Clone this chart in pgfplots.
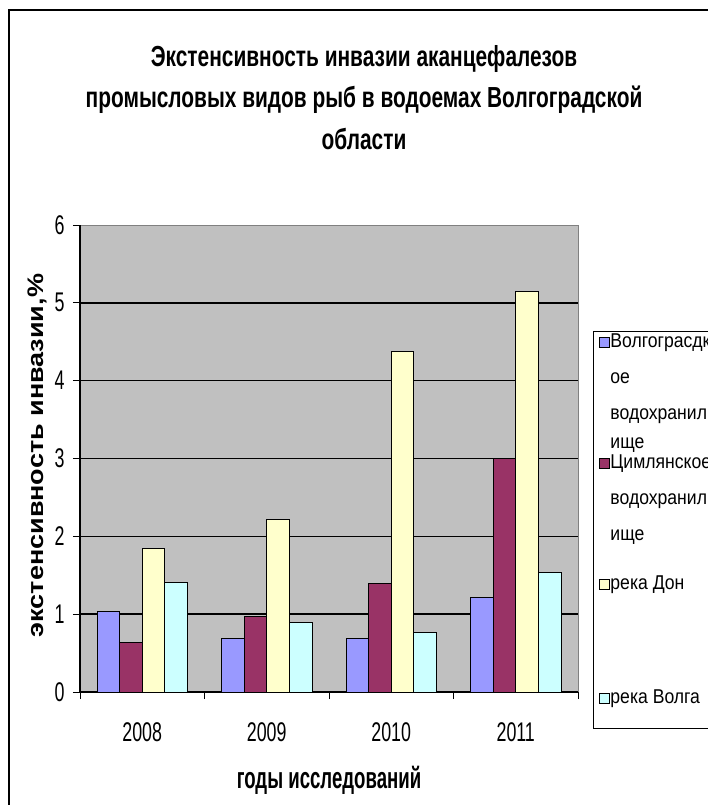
\documentclass[border=0pt]{standalone}
\usepackage{pgfplots}
\pgfplotsset{compat=1.18}
\usepackage{fontspec}
\setmainfont{Liberation Sans}
\newfontfamily\titlefont[FakeStretch=0.72]{Liberation Sans}
\newfontfamily\tickfont[FakeStretch=0.66]{Liberation Sans}
\newfontfamily\xlabfont[FakeStretch=0.62]{Liberation Sans}
\newfontfamily\ylabfont[FakeStretch=1.2]{Liberation Sans}
\newfontfamily\legfont[FakeStretch=0.88]{Liberation Sans}
\definecolor{bgray}{RGB}{192,192,192}
\definecolor{edgegray}{RGB}{128,128,128}
\definecolor{sA}{RGB}{153,153,255}
\definecolor{sB}{RGB}{153,51,102}
\definecolor{sC}{RGB}{255,255,204}
\definecolor{sD}{RGB}{204,255,255}
\protected\def\LegEntry#1#2{\parbox[t][#1][t]{200pt}{\legfont\fontsize{20pt}{36pt}\selectfont\rule[-5pt]{0pt}{21pt}#2}}
\pgfplotstableread{
x  A    B    C    D
0  1.04 0.64 1.84 1.41
1  0.69 0.97 2.22 0.89
2  0.69 1.39 4.37 0.76
3  1.21 3.00 5.14 1.54
}\datatable
\begin{document}
\begin{tikzpicture}
\useasboundingbox (0pt,0pt) rectangle (708pt,-805pt);
\clip (0pt,0pt) rectangle (708pt,-805pt);
\draw[line width=2pt] (9pt,-10pt) rectangle (760pt,-860pt);
\begin{axis}[
  at={(80pt,-692pt)}, anchor=south west,
  scale only axis, width=498pt, height=467pt,
  ybar=0pt, bar width=22.6pt,
  xmin=-0.5, xmax=3.5, ymin=0, ymax=6,
  axis x line*=bottom, axis y line*=left,
  axis line style={black, line width=1.2pt},
  axis background/.style={fill=bgray, draw=edgegray, line width=1pt},
  xtick={0,1,2,3}, xticklabels={2008,2009,2010,2011},
  major x tick style={draw=none},
  minor xtick={-0.5,0.5,1.5,2.5,3.5},
  ytick={0,1,2,3,4,5,6},
  tick align=outside, major tick length=7pt, minor tick length=7pt,
  tick style={black, line width=1pt},
  extra y ticks={1,2,3,4,5}, extra y tick labels={},
  extra y tick style={ymajorgrids=true, major tick length=0pt},
  grid style={black, line width=1.4pt},
  /pgf/number format/assume math mode=true,
  tick label style={font=\tickfont\fontsize{27pt}{30pt}\selectfont},
  yticklabel style={xshift=-5pt},
  xticklabel style={anchor=base, yshift=-42pt},
  title={Экстенсивность инвазии аканцефалезов\\промысловых видов рыб в водоемах Волгоградской\\области},
  title style={at={(axis description cs:0.5703,1.3726)}, anchor=north, align=center, inner sep=0pt,
    font=\titlefont\bfseries\fontsize{29pt}{41.5pt}\selectfont},
  xlabel={годы исследований},
  xlabel style={at={(axis description cs:0.5,-0.2056)}, anchor=base, inner sep=0pt,
    font=\xlabfont\bfseries\fontsize{30pt}{34pt}\selectfont},
  ylabel={экстенсивность инвазии,\%},
  ylabel style={at={(axis description cs:-0.0737,0.5064)}, anchor=base, inner sep=0pt,
    font=\ylabfont\bfseries\fontsize{22.5pt}{26pt}\selectfont},
  legend style={at={(axis description cs:1.0301,0.7730)}, anchor=north west,
    draw=black, line width=1.3pt, fill=white, inner xsep=5pt, inner ysep=0pt,
    row sep=0pt, column sep=1pt,
    font=\legfont\fontsize{20pt}{36pt}\selectfont,
    nodes={inner sep=0pt, text depth=, anchor=base west}},
  legend cell align=left,
]
\addplot[fill=sA, draw=black, line width=0.9pt,
  legend image code/.code={\draw[fill=sA, draw=black, line width=0.8pt] (0pt,0pt) rectangle (10pt,10pt);}]
  table[x=x, y=A] {\datatable};
\addplot[fill=sB, draw=black, line width=0.9pt,
  legend image code/.code={\draw[fill=sB, draw=black, line width=0.8pt] (0pt,0pt) rectangle (10pt,10pt);}]
  table[x=x, y=B] {\datatable};
\addplot[fill=sC, draw=black, line width=0.9pt,
  legend image code/.code={\draw[fill=sC, draw=black, line width=0.8pt] (0pt,0pt) rectangle (10pt,10pt);}]
  table[x=x, y=C] {\datatable};
\addplot[fill=sD, draw=black, line width=0.9pt,
  legend image code/.code={\draw[fill=sD, draw=black, line width=0.8pt] (0pt,0pt) rectangle (10pt,10pt);}]
  table[x=x, y=D] {\datatable};
\addlegendentry{\LegEntry{121pt}{Волгограсдк\\ое\\водохранил\\[-7pt]ище}}
\addlegendentry{\LegEntry{121pt}{Цимлянское\\водохранил\\ище}}
\addlegendentry{\LegEntry{114pt}{река Дон}}
\addlegendentry{\LegEntry{41pt}{река Волга}}
\end{axis}
\end{tikzpicture}
\end{document}
